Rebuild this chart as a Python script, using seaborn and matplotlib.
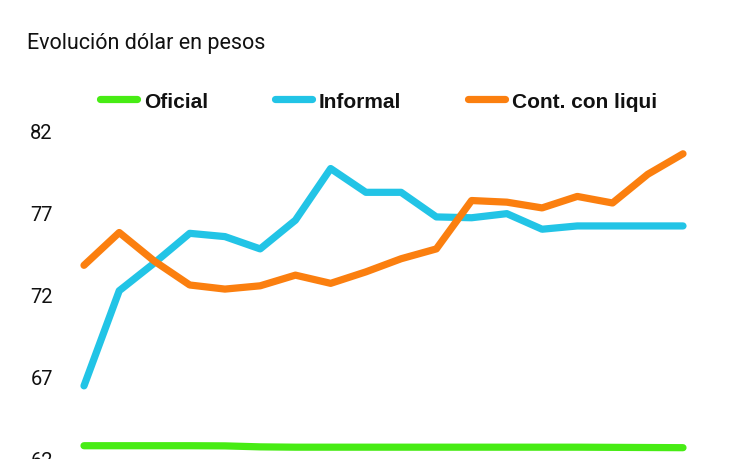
import matplotlib
matplotlib.use("Agg")
import matplotlib.pyplot as plt
import seaborn as sns
import pandas as pd
from matplotlib.lines import Line2D

# ---- data ----
dias = list(range(18))
oficial = [62.75, 62.75, 62.75, 62.75, 62.74, 62.68, 62.66, 62.66, 62.66, 62.66,
           62.66, 62.66, 62.66, 62.66, 62.66, 62.65, 62.64, 62.63]
informal = [66.4, 72.2, 73.9, 75.7, 75.5, 74.75, 76.5, 79.65, 78.2, 78.2,
            76.7, 76.65, 76.9, 75.95, 76.15, 76.15, 76.15, 76.15]
ccl = [73.75, 75.75, 74.0, 72.55, 72.3, 72.5, 73.15, 72.65, 73.35, 74.15,
       74.75, 77.7, 77.6, 77.25, 77.95, 77.55, 79.3, 80.55]
series = ["Oficial", "Informal", "Cont. con liqui"]
yticks = [62, 67, 72, 77, 82]
titulo = "Evolución dólar en pesos"

colors = {"Oficial": "#47ec14", "Informal": "#22c4e6", "Cont. con liqui": "#fb7f0f"}

df = pd.DataFrame({
    "dia": dias * 3,
    "valor": oficial + informal + ccl,
    "serie": [series[0]] * 18 + [series[1]] * 18 + [series[2]] * 18,
})

sns.set_theme(style="white")
plt.rcParams["font.family"] = ["Roboto", "DejaVu Sans"]

W, H = 730, 460
fig = plt.figure(figsize=(W / 100, H / 100), dpi=100)
fig.patch.set_facecolor("white")
ax = fig.add_axes([84 / W, 0, (683 - 84) / W, (460 - 131) / H])

sns.lineplot(data=df, x="dia", y="valor", hue="serie", palette=colors,
             linewidth=5.2, ax=ax, legend=False, estimator=None, sort=False)
for ln in ax.lines:
    ln.set_solid_capstyle("round")
    ln.set_solid_joinstyle("round")
    ln.set_clip_on(False)

ax.set_xlim(0, 17)
ax.set_ylim(61.94, 82)
ax.set_yticks(yticks)
ax.set_yticklabels([str(t) for t in yticks])
ax.set_xticks([])
ax.set_xlabel("")
ax.set_ylabel("")
ax.tick_params(axis="y", length=0, pad=22.5, labelsize=14.5, labelcolor="#111111")
for s in ax.spines.values():
    s.set_visible(False)
ax.set_facecolor("none")

fig.text(27 / W, 1 - 49 / H, titulo, fontsize=15.5, color="#111111",
         va="baseline", ha="left")

handles = [Line2D([0], [0], color=colors[s], lw=5.2, solid_capstyle="round") for s in series]
leg = fig.legend(handles, series, loc="center left",
                 bbox_to_anchor=(100 / W, 1 - 102 / H), ncol=3, frameon=False,
                 handlelength=1.78, handletextpad=0.34, columnspacing=3.2,
                 borderaxespad=0, borderpad=0,
                 prop={"family": ["Liberation Sans", "DejaVu Sans"], "weight": "bold", "size": 15})
for t in leg.get_texts():
    t.set_color("#111111")

fig.savefig("out.png", dpi=100, facecolor="white")
